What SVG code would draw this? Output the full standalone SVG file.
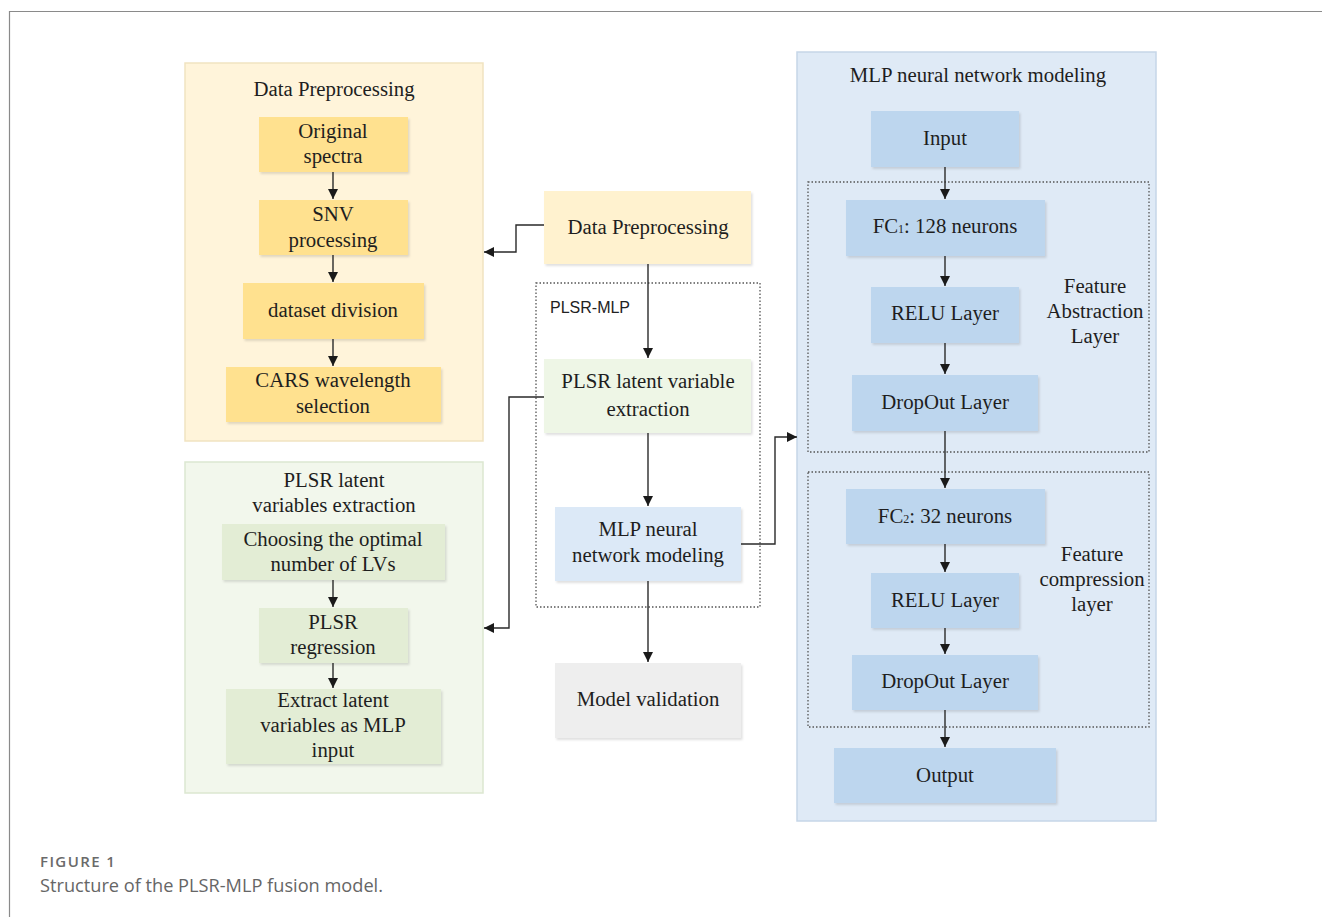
<svg xmlns="http://www.w3.org/2000/svg" width="1322" height="917" viewBox="0 0 1322 917">
<defs>
<style>
.t{font-family:"Liberation Serif","Times New Roman",serif;font-size:20.8px;fill:#1e1e1e;text-anchor:middle}
.panelY{fill:#fff4da;stroke:#f1e3c1;stroke-width:1.5}
.panelG{fill:#f2f7ec;stroke:#dce7d1;stroke-width:1.5}
.panelB{fill:#dfeaf6;stroke:#c6d6e8;stroke-width:1.5}
.bY{fill:#ffe18f;filter:url(#sh)}
.bG{fill:#e3edd5;filter:url(#sh)}
.bB{fill:#bdd6ee;filter:url(#sh)}
.dot{fill:none;stroke:#555;stroke-width:1.3;stroke-dasharray:1.5 2}
.c{fill:none;stroke:#2a2a2a;stroke-width:1.4}
</style>
<filter id="sh" x="-5%" y="-5%" width="115%" height="125%">
<feDropShadow dx="1.5" dy="2" stdDeviation="1.2" flood-color="#000" flood-opacity="0.12"/>
</filter>
<marker id="ah" viewBox="0 0 10 10" refX="10" refY="5" markerWidth="10" markerHeight="10" markerUnits="userSpaceOnUse" orient="auto">
<path d="M0,0 L10,5 L0,10 z" fill="#1a1a1a"/>
</marker>
</defs>
<rect width="1322" height="917" fill="#fff"/>
<path d="M9.5,917 V11.5 H1322" fill="none" stroke="#8a8a8a" stroke-width="1.2"/>

<g id="panel-data-preprocessing">
<rect class="panelY" x="185" y="63" width="298" height="378"/>
<text class="t" x="334" y="96">Data Preprocessing</text>
</g>
<g id="node-original-spectra"><rect class="bY" x="259" y="117" width="149" height="55"/><text class="t" x="333" y="138">Original</text><text class="t" x="333" y="163">spectra</text></g>
<g id="node-snv"><rect class="bY" x="259" y="200" width="149" height="55"/><text class="t" x="333" y="221">SNV</text><text class="t" x="333" y="247">processing</text></g>
<g id="node-dataset-division"><rect class="bY" x="243" y="283" width="181" height="56"/><text class="t" x="333" y="317">dataset division</text></g>
<g id="node-cars"><rect class="bY" x="226" y="367" width="215" height="55"/><text class="t" x="333" y="387">CARS wavelength</text><text class="t" x="333" y="413">selection</text></g>

<g id="panel-plsr">
<rect class="panelG" x="185" y="462" width="298" height="331"/>
<text class="t" x="334" y="487">PLSR latent</text>
<text class="t" x="334" y="512">variables extraction</text>
</g>
<g id="node-choosing"><rect class="bG" x="222" y="524" width="223" height="56"/><text class="t" x="333" y="546">Choosing the optimal</text><text class="t" x="333" y="571">number of LVs</text></g>
<g id="node-plsr-regression"><rect class="bG" x="259" y="608" width="149" height="55"/><text class="t" x="333" y="629">PLSR</text><text class="t" x="333" y="654">regression</text></g>
<g id="node-extract"><rect class="bG" x="226" y="689" width="215" height="75"/><text class="t" x="333" y="707">Extract latent</text><text class="t" x="333" y="732">variables as MLP</text><text class="t" x="333" y="757">input</text></g>

<g id="group-plsr-mlp">
<rect class="dot" x="536" y="283" width="224" height="324"/>
<text x="550" y="313" style="font-family:'Liberation Sans',Arial,sans-serif;font-size:16px;fill:#222">PLSR-MLP</text>
</g>
<g id="node-center-dp"><rect x="544" y="191" width="207" height="73" fill="#fff2cf" style="filter:url(#sh)"/><text class="t" x="648" y="234">Data Preprocessing</text></g>
<g id="node-center-plsr"><rect x="544" y="359" width="207" height="74" fill="#eef6e6" style="filter:url(#sh)"/><text class="t" x="648" y="388">PLSR latent variable</text><text class="t" x="648" y="416">extraction</text></g>
<g id="node-center-mlp"><rect x="555" y="507" width="186" height="74" fill="#dce9f7" style="filter:url(#sh)"/><text class="t" x="648" y="536">MLP neural</text><text class="t" x="648" y="562">network modeling</text></g>
<g id="node-model-validation"><rect x="555" y="663" width="186" height="75" fill="#eeeeee" style="filter:url(#sh)"/><text class="t" x="648" y="706">Model validation</text></g>

<g id="panel-mlp">
<rect class="panelB" x="797" y="52" width="359" height="769"/>
<text class="t" x="978" y="82">MLP neural network modeling</text>
</g>
<g id="group-feature-abstraction">
<rect class="dot" x="808" y="182" width="341" height="270"/>
<text class="t" x="1095" y="293">Feature</text><text class="t" x="1095" y="318">Abstraction</text><text class="t" x="1095" y="343">Layer</text>
</g>
<g id="group-feature-compression">
<rect class="dot" x="808" y="472" width="341" height="255"/>
<text class="t" x="1092" y="561">Feature</text><text class="t" x="1092" y="586">compression</text><text class="t" x="1092" y="611">layer</text>
</g>
<g id="node-input"><rect class="bB" x="871" y="111" width="148" height="56"/><text class="t" x="945" y="145">Input</text></g>
<g id="node-fc1"><rect class="bB" x="846" y="200" width="199" height="56"/><text class="t" x="945" y="233">FC<tspan font-size="12">1</tspan>: 128 neurons</text></g>
<g id="node-relu1"><rect class="bB" x="871" y="287" width="148" height="56"/><text class="t" x="945" y="320">RELU Layer</text></g>
<g id="node-dropout1"><rect class="bB" x="852" y="375" width="186" height="56"/><text class="t" x="945" y="409">DropOut Layer</text></g>
<g id="node-fc2"><rect class="bB" x="846" y="489" width="199" height="55"/><text class="t" x="945" y="523">FC<tspan font-size="12">2</tspan>: 32 neurons</text></g>
<g id="node-relu2"><rect class="bB" x="871" y="573" width="148" height="55"/><text class="t" x="945" y="607">RELU Layer</text></g>
<g id="node-dropout2"><rect class="bB" x="852" y="655" width="186" height="55"/><text class="t" x="945" y="688">DropOut Layer</text></g>
<g id="node-output"><rect class="bB" x="834" y="748" width="222" height="55"/><text class="t" x="945" y="782">Output</text></g>

<g id="connectors">
<path class="c" d="M333,172 V199" marker-end="url(#ah)"/>
<path class="c" d="M333,255 V282" marker-end="url(#ah)"/>
<path class="c" d="M333,339 V366" marker-end="url(#ah)"/>
<path class="c" d="M333,580 V607" marker-end="url(#ah)"/>
<path class="c" d="M333,663 V688" marker-end="url(#ah)"/>
<path class="c" d="M648,264 V358" marker-end="url(#ah)"/>
<path class="c" d="M648,433 V506" marker-end="url(#ah)"/>
<path class="c" d="M648,581 V662" marker-end="url(#ah)"/>
<path class="c" d="M544,225 H516 V252 H484" marker-end="url(#ah)"/>
<path class="c" d="M544,397 H509 V628 H484" marker-end="url(#ah)"/>
<path class="c" d="M741,544 H775 V437 H797" marker-end="url(#ah)"/>
<path class="c" d="M945,167 V199" marker-end="url(#ah)"/>
<path class="c" d="M945,256 V286" marker-end="url(#ah)"/>
<path class="c" d="M945,343 V374" marker-end="url(#ah)"/>
<path class="c" d="M945,431 V488" marker-end="url(#ah)"/>
<path class="c" d="M945,544 V572" marker-end="url(#ah)"/>
<path class="c" d="M945,628 V654" marker-end="url(#ah)"/>
<path class="c" d="M945,710 V747" marker-end="url(#ah)"/>
</g>

<g id="caption">
<text x="40" y="867" style="font-family:'Open Sans',sans-serif;font-size:15px;font-weight:600;fill:#6a6a6a;letter-spacing:1.4px">FIGURE 1</text>
<text x="40" y="892" style="font-family:'Open Sans',sans-serif;font-size:18.2px;fill:#666">Structure of the PLSR-MLP fusion model.</text>
</g>
</svg>
